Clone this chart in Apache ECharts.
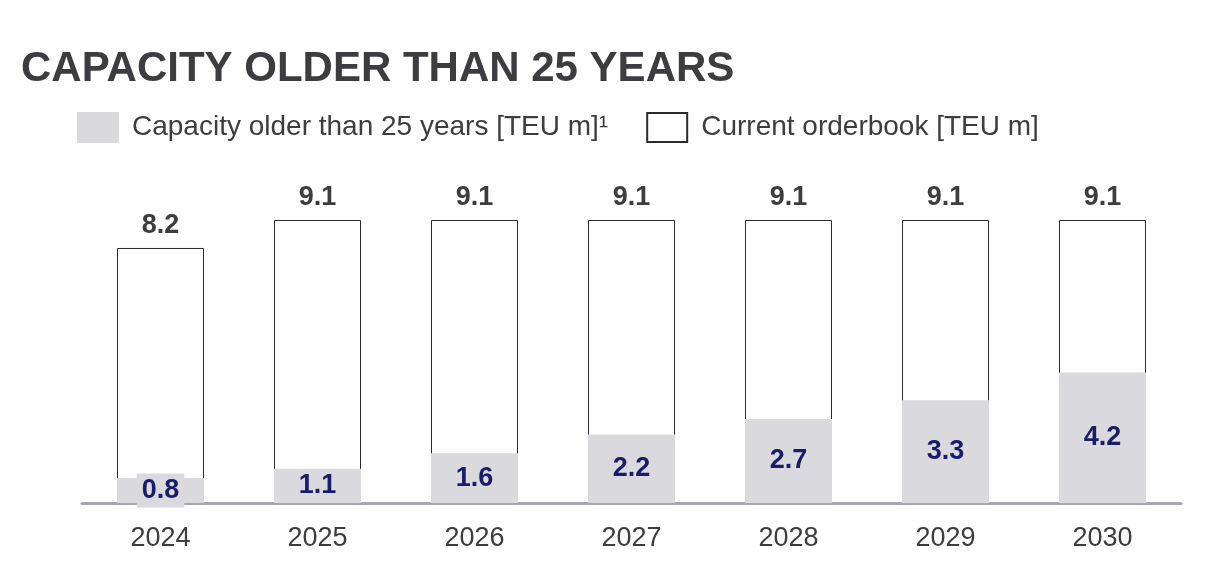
<!DOCTYPE html>
<html>
<head>
<meta charset="utf-8">
<script src="https://cdn.jsdelivr.net/npm/echarts@6/dist/echarts.min.js"></script>
<style>
html,body{margin:0;padding:0;background:#fff;}
#c{width:1222px;height:586px;}
</style>
</head>
<body>
<div id="c"></div>
<script>
const years = ['2024','2025','2026','2027','2028','2029','2030'];
const olderCapacity = [0.8, 1.1, 1.6, 2.2, 2.7, 3.3, 4.2];
const orderbook = [8.2, 9.1, 9.1, 9.1, 9.1, 9.1, 9.1];
const seriesNames = ['Capacity older than 25 years [TEU m]\u00B9', 'Current orderbook [TEU m]'];
const titleText = 'CAPACITY OLDER THAN 25 YEARS';

const FONT = '"Liberation Sans", Arial, Helvetica, sans-serif';
const GRAY = '#d9d9de';
const TXT = '#3c3c41';

const chart = echarts.init(document.getElementById('c'), null, {renderer: 'canvas'});
chart.setOption({
  backgroundColor: '#ffffff',
  animation: false,
  title: {
    text: titleText,
    left: 21,
    top: 48,
    padding: 0,
    textStyle: {fontFamily: FONT, fontSize: 42, fontWeight: 'bold', color: TXT}
  },
  legend: {
    left: 77,
    top: 112,
    padding: 0,
    itemWidth: 40,
    itemHeight: 29,
    itemGap: 38,
    icon: 'rect',
    selectedMode: false,
    data: [seriesNames[0], seriesNames[1]],
    textStyle: {fontFamily: FONT, fontSize: 28, color: TXT, padding: [6, 0, 0, 9]}
  },
  grid: {left: 82, right: 41, top: 192, bottom: 83},
  xAxis: {
    type: 'category',
    data: years,
    axisLine: {show: true, lineStyle: {color: '#a6a6ad', width: 3}},
    axisTick: {show: false},
    axisLabel: {fontFamily: FONT, fontSize: 27, color: TXT, margin: 22}
  },
  yAxis: {
    type: 'value',
    min: 0,
    max: 10,
    show: false,
    splitLine: {show: false}
  },
  series: [
    {
      name: seriesNames[1],
      type: 'bar',
      data: orderbook,
      barWidth: 87,
      z: 1,
      itemStyle: {color: '#ffffff', borderColor: '#2a2a2a', borderWidth: 1},
      label: {
        show: true,
        position: 'top',
        distance: 9,
        fontFamily: FONT,
        fontSize: 27,
        fontWeight: 'bold',
        color: TXT,
        formatter: p => p.value.toFixed(1)
      }
    },
    {
      name: seriesNames[0],
      type: 'bar',
      data: olderCapacity,
      barWidth: 87,
      barGap: '-100%',
      z: 3,
      itemStyle: {color: GRAY, borderColor: GRAY, borderWidth: 1.5},
      label: {
        show: true,
        position: 'inside',
        fontFamily: FONT,
        fontSize: 27,
        fontWeight: 'bold',
        color: '#1a1c6b',
        backgroundColor: GRAY,
        padding: [5, 5, 2, 5],
        formatter: p => p.value.toFixed(1)
      }
    }
  ]
});
</script>
</body>
</html>
